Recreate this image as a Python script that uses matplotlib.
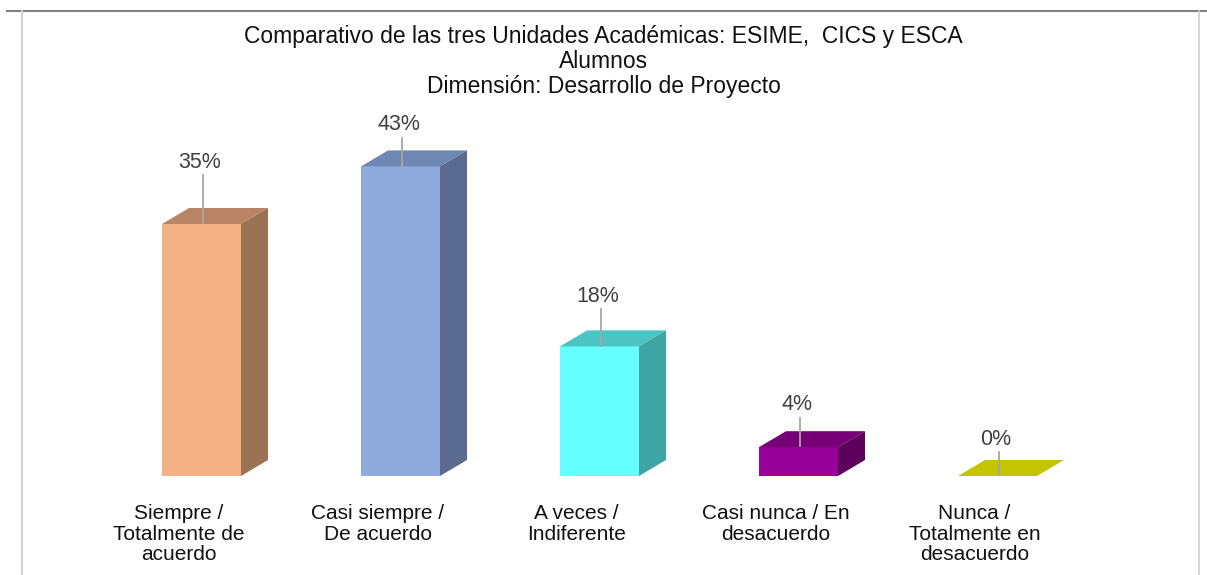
import numpy as np
import matplotlib.pyplot as plt
from matplotlib.patches import Polygon
from matplotlib.lines import Line2D

plt.rcParams['font.family'] = ['Liberation Sans', 'DejaVu Sans']

categories = ["Siempre /\nTotalmente de\nacuerdo", "Casi siempre /\nDe acuerdo",
              "A veces /\nIndiferente", "Casi nunca / En\ndesacuerdo",
              "Nunca /\nTotalmente en\ndesacuerdo"]
values = [35, 43, 18, 4, 0]
value_labels = ["35%", "43%", "18%", "4%", "0%"]

front_colors = ["#F4B183", "#8FAADC", "#66FFFF", "#990099", "#C4C400"]
top_colors = ["#B98465", "#6F87B3", "#4DC4C4", "#760076", "#C4C400"]
side_colors = ["#9B7254", "#5B6A8F", "#3FA4A4", "#5C005C", "#9A9A00"]
label_dy = [8.6, 5.8, 7.0, 5.9, 5.1]   # label height above bar top

W, H = 1207, 575
fig = plt.figure(figsize=(W / 100, H / 100), dpi=100)
ax = fig.add_axes([0, 0, 1, 1])
ax.axis("off")

# pixel mapping: category i centre at 201.5 + 199*i px, baseline at y=476 px, 7.2 px per %
ax.set_xlim(-201.5 / 199, (W - 201.5) / 199)
ax.set_ylim(-(H - 476) / 7.2, 476 / 7.2)

x = np.arange(len(values))
bw = 79 / 199
dx, dy = 27 / 199, 16 / 7.2

ax.bar(x, values, width=bw, color=front_colors, zorder=2)
for i, v in enumerate(values):
    l, r = x[i] - bw / 2, x[i] + bw / 2
    ax.add_patch(Polygon([(l, v), (r, v), (r + dx, v + dy), (l + dx, v + dy)],
                         closed=True, facecolor=top_colors[i], edgecolor="none", zorder=2))
    if v > 0:
        ax.add_patch(Polygon([(r, 0), (r + dx, dy), (r + dx, v + dy), (r, v)],
                             closed=True, facecolor=side_colors[i], edgecolor="none", zorder=2))
    ty = v + label_dy[i]
    ax.plot([x[i] + 0.01, x[i] + 0.01], [v + 0.1, ty - 1.8], color="#A6A6A6", lw=1.3, zorder=3)
    ax.text(x[i] - 0.01, ty, value_labels[i], ha="center", va="center",
            fontsize=15.5, color="#404040", zorder=4)
    ax.text(x[i] - 0.115, -3.9, categories[i], ha="center", va="top",
            fontsize=15, color="#111111", linespacing=1.1)

title_lines = ["Comparativo de las tres Unidades Académicas: ESIME,  CICS y ESCA",
               "Alumnos", "Dimensión: Desarrollo de Proyecto"]
for ypx, t in zip([37, 61, 86], title_lines):
    fig.text(0.5, 1 - ypx / H, t, ha="center", va="center", fontsize=16.5, color="#111111")

# frame lines
fig.add_artist(Line2D([7 / W, 1], [1 - 10.5 / H, 1 - 10.5 / H], color="#808080", lw=1.5))
fig.add_artist(Line2D([21.5 / W, 21.5 / W], [0, 1 - 11 / H], color="#D0D0D0", lw=1.5))
fig.add_artist(Line2D([1199 / W, 1199 / W], [0, 1 - 11 / H], color="#D0D0D0", lw=1.2))

fig.savefig("out.png", dpi=100)
